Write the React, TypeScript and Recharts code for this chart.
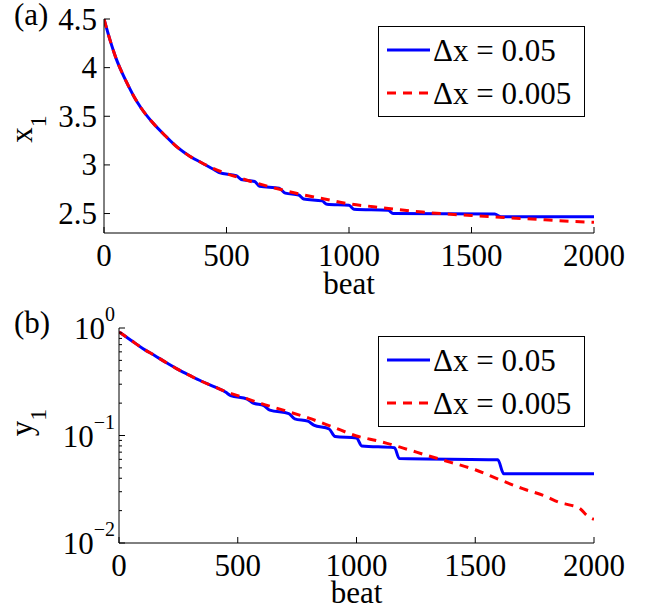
import { Legend, Line, LineChart, XAxis, YAxis } from "recharts";

// beat axis, shared by both panels
const beatTicks = [0, 500, 1000, 1500, 2000];

// panel (a): x1
const x1Ticks = [2.5, 3, 3.5, 4, 4.5];
const beatsBlueA = [0, 25, 50, 75, 100, 125, 150, 200, 250, 300, 350, 400, 450, 470, 540, 560, 615, 635, 715, 740, 795, 815, 890, 910, 1000, 1020, 1160, 1180, 1595, 1620, 2000];
const x1Blue = [4.5, 4.28, 4.09, 3.94, 3.81, 3.69, 3.59, 3.43, 3.3, 3.18, 3.09, 3.02, 2.95, 2.92, 2.89, 2.85, 2.83, 2.78, 2.76, 2.71, 2.69, 2.65, 2.63, 2.595, 2.585, 2.545, 2.535, 2.5, 2.495, 2.466, 2.466];
const beatsRedA = [0, 25, 50, 75, 100, 125, 150, 200, 250, 300, 350, 400, 450, 500, 550, 600, 700, 800, 900, 1000, 1100, 1200, 1300, 1400, 1500, 1600, 1700, 1800, 1900, 2000];
const x1Red = [4.5, 4.28, 4.09, 3.94, 3.81, 3.69, 3.59, 3.43, 3.3, 3.18, 3.09, 3.02, 2.96, 2.91, 2.87, 2.83, 2.76, 2.7, 2.65, 2.6, 2.57, 2.54, 2.515, 2.495, 2.48, 2.465, 2.45, 2.435, 2.42, 2.41];

// panel (b): y1, log scale
const y1Ticks = [0.01, 0.02, 0.03, 0.04, 0.05, 0.06, 0.07, 0.08, 0.09, 0.1, 0.2, 0.3, 0.4, 0.5, 0.6, 0.7, 0.8, 0.9, 1];
const y1Major = [0.01, 0.1, 1];
const y1Exp = ["\u22122", "\u22121", "0"];
const beatsBlueB = [0, 50, 100, 150, 200, 250, 300, 350, 400, 450, 470, 540, 565, 610, 635, 715, 740, 795, 820, 885, 910, 1000, 1022, 1160, 1180, 1595, 1620, 2000];
const y1Blue = [0.92, 0.77, 0.645, 0.555, 0.475, 0.41, 0.36, 0.318, 0.285, 0.252, 0.235, 0.218, 0.2, 0.19, 0.172, 0.16, 0.143, 0.136, 0.125, 0.115, 0.098, 0.095, 0.08, 0.077, 0.061, 0.0595, 0.044, 0.044];
const beatsRedB = [0, 50, 100, 150, 200, 250, 300, 350, 400, 450, 500, 600, 700, 800, 900, 1000, 1100, 1200, 1300, 1400, 1500, 1600, 1700, 1800, 1850, 1900, 1940, 1970, 2000];
const y1Red = [0.92, 0.77, 0.645, 0.555, 0.475, 0.41, 0.36, 0.318, 0.285, 0.256, 0.235, 0.198, 0.17, 0.145, 0.12, 0.099, 0.088, 0.076, 0.065, 0.056, 0.048, 0.039, 0.032, 0.027, 0.024, 0.0225, 0.021, 0.018, 0.0166];

const seriesNames = ["\u0394x = 0.05", "\u0394x = 0.005"];

const FONT = "Liberation Serif, DejaVu Serif, serif";
const txt = { fontFamily: FONT, fill: "#000" };
const BLUE = "#0000ff";
const RED = "#ff0000";

const zip = (beats: number[], vals: number[]) => beats.map((b, i) => ({ beat: b, v: vals[i] }));

const blueA = zip(beatsBlueA, x1Blue);
const redA = zip(beatsRedA, x1Red);
const blueB = zip(beatsBlueB, y1Blue);
const redB = zip(beatsRedB, y1Red);

function BottomTick({ x, y, payload }: any) {
  return (
    <g>
      <line x1={x} y1={y} x2={x} y2={y - 6} stroke="#000" />
      <text x={x} y={y + 33} textAnchor="middle" style={{ ...txt, fontSize: 31 }}>
        {payload.value}
      </text>
    </g>
  );
}

function TopTick({ x, y }: any) {
  return <line x1={x} y1={y} x2={x} y2={y + 6} stroke="#000" />;
}

function LeftTick({ x, y, payload }: any) {
  return (
    <g>
      <line x1={x} y1={y} x2={x + 6} y2={y} stroke="#000" />
      <text x={x - 7} y={y} dy="0.34em" textAnchor="end" style={{ ...txt, fontSize: 31 }}>
        {payload.value}
      </text>
    </g>
  );
}

function RightTick({ x, y }: any) {
  return <line x1={x} y1={y} x2={x - 6} y2={y} stroke="#000" />;
}

function LogLeftTick({ x, y, payload }: any) {
  const idx = y1Major.indexOf(payload.value);
  if (idx < 0) return <line x1={x} y1={y} x2={x + 3} y2={y} stroke="#000" />;
  return (
    <g>
      <line x1={x} y1={y} x2={x + 6} y2={y} stroke="#000" />
      <text x={x - 4} y={y + 11} textAnchor="end" style={{ ...txt, fontSize: 31 }}>
        10
        <tspan dy={-18} style={{ fontSize: 20 }}>
          {y1Exp[idx]}
        </tspan>
      </text>
    </g>
  );
}

function LogRightTick({ x, y, payload }: any) {
  const len = y1Major.includes(payload.value) ? 6 : 3;
  return <line x1={x} y1={y} x2={x - len} y2={y} stroke="#000" />;
}

function YLabel({ viewBox, name, shift }: any) {
  const cy = viewBox.y + viewBox.height / 2 + shift;
  return (
    <text transform={`translate(32,${cy}) rotate(-90)`} textAnchor="middle" style={{ ...txt, fontSize: 31 }}>
      {name}
      <tspan dy={14} style={{ fontSize: 24 }}>
        1
      </tspan>
    </text>
  );
}

function XLabel({ viewBox, drop }: any) {
  return (
    <text x={viewBox.x + viewBox.width / 2} y={viewBox.y + drop} textAnchor="middle" style={{ ...txt, fontSize: 31 }}>
      beat
    </text>
  );
}

function LegendBox({ payload }: any) {
  const items = [...(payload || [])].sort(
    (a: any, b: any) => seriesNames.indexOf(a.value) - seriesNames.indexOf(b.value),
  );
  return (
    <svg width={208} height={92} style={{ display: "block" }}>
      <rect x={0.5} y={0.5} width={206} height={90} fill="#fff" stroke="#000" />
      {items.map((p: any, i: number) => (
        <g key={p.value}>
          <line
            x1={9}
            x2={52}
            y1={24 + 43 * i}
            y2={24 + 43 * i}
            stroke={p.color}
            strokeWidth={3}
            strokeDasharray={p.payload?.strokeDasharray}
          />
          <text x={55} y={35 + 43 * i} style={{ ...txt, fontSize: 31 }}>
            {p.value}
          </text>
        </g>
      ))}
    </svg>
  );
}

function PanelTag({ text, baseline }: { text: string; baseline: number }) {
  return (
    <svg width={60} height={50} style={{ position: "absolute", left: 0, top: baseline - 32 }}>
      <text x={14} y={32} style={{ ...txt, fontSize: 31 }}>
        {text}
      </text>
    </svg>
  );
}

export default function App() {
  return (
    <div style={{ position: "absolute", left: 0, top: 0, width: 654, height: 608, background: "#fff", fontFamily: FONT }}>
      <div style={{ position: "absolute", left: 0, top: 0 }}>
        <LineChart width={654} height={300} margin={{ top: 19, right: 60, bottom: 0, left: 44 }}>
          <XAxis
            dataKey="beat"
            type="number"
            domain={[0, 2000]}
            ticks={beatTicks}
            interval={0}
            allowDataOverflow
            height={67}
            tickSize={0}
            tickMargin={0}
            tickLine={false}
            tick={<BottomTick />}
            axisLine={{ stroke: "#000" }}
            label={<XLabel drop={61} />}
          />
          <XAxis
            xAxisId="t"
            orientation="top"
            type="number"
            domain={[0, 2000]}
            ticks={beatTicks}
            interval={0}
            allowDataOverflow
            height={0}
            tickSize={0}
            tickMargin={0}
            tickLine={false}
            tick={<TopTick />}
            axisLine={{ stroke: "#000" }}
          />
          <YAxis
            type="number"
            domain={[2.3, 4.5]}
            ticks={x1Ticks}
            interval={0}
            allowDataOverflow
            width={60}
            tickSize={0}
            tickMargin={0}
            tickLine={false}
            tick={<LeftTick />}
            axisLine={{ stroke: "#000" }}
            label={<YLabel name="x" shift={3} />}
          />
          <YAxis
            yAxisId="r"
            orientation="right"
            type="number"
            domain={[2.3, 4.5]}
            ticks={x1Ticks}
            interval={0}
            allowDataOverflow
            width={0}
            tickSize={0}
            tickMargin={0}
            tickLine={false}
            tick={<RightTick />}
            axisLine={{ stroke: "#000" }}
          />
          <Legend
            layout="vertical"
            align="center"
            verticalAlign="middle"
            content={<LegendBox />}
            wrapperStyle={{ left: 378, top: 26, width: 208, height: 92 }}
          />
          <Line
            data={blueA}
            dataKey="v"
            name={seriesNames[0]}
            type="monotone"
            stroke={BLUE}
            strokeWidth={3}
            dot={false}
            isAnimationActive={false}
          />
          <Line
            data={redA}
            dataKey="v"
            name={seriesNames[1]}
            type="monotone"
            stroke={RED}
            strokeWidth={3}
            strokeDasharray="9 7"
            dot={false}
            isAnimationActive={false}
          />
        </LineChart>
      </div>
      <div style={{ position: "absolute", left: 0, top: 300 }}>
        <LineChart width={654} height={308} margin={{ top: 28, right: 60, bottom: 0, left: 59 }}>
          <XAxis
            dataKey="beat"
            type="number"
            domain={[0, 2000]}
            ticks={beatTicks}
            interval={0}
            allowDataOverflow
            height={65}
            tickSize={0}
            tickMargin={0}
            tickLine={false}
            tick={<BottomTick />}
            axisLine={{ stroke: "#000" }}
            label={<XLabel drop={60} />}
          />
          <XAxis
            xAxisId="t"
            orientation="top"
            type="number"
            domain={[0, 2000]}
            ticks={beatTicks}
            interval={0}
            allowDataOverflow
            height={0}
            tickSize={0}
            tickMargin={0}
            tickLine={false}
            tick={<TopTick />}
            axisLine={{ stroke: "#000" }}
          />
          <YAxis
            type="number"
            scale="log"
            domain={[0.01, 1]}
            ticks={y1Ticks}
            interval={0}
            allowDataOverflow
            width={60}
            tickSize={0}
            tickMargin={0}
            tickLine={false}
            tick={<LogLeftTick />}
            axisLine={{ stroke: "#000" }}
            label={<YLabel name="y" shift={-13} />}
          />
          <YAxis
            yAxisId="r"
            orientation="right"
            type="number"
            scale="log"
            domain={[0.01, 1]}
            ticks={y1Ticks}
            interval={0}
            allowDataOverflow
            width={0}
            tickSize={0}
            tickMargin={0}
            tickLine={false}
            tick={<LogRightTick />}
            axisLine={{ stroke: "#000" }}
          />
          <Legend
            layout="vertical"
            align="center"
            verticalAlign="middle"
            content={<LegendBox />}
            wrapperStyle={{ left: 378, top: 36, width: 208, height: 92 }}
          />
          <Line
            data={blueB}
            dataKey="v"
            name={seriesNames[0]}
            type="monotone"
            stroke={BLUE}
            strokeWidth={3}
            dot={false}
            isAnimationActive={false}
          />
          <Line
            data={redB}
            dataKey="v"
            name={seriesNames[1]}
            type="monotone"
            stroke={RED}
            strokeWidth={3}
            strokeDasharray="9 7"
            dot={false}
            isAnimationActive={false}
          />
        </LineChart>
      </div>
      <PanelTag text="(a)" baseline={25} />
      <PanelTag text="(b)" baseline={333} />
    </div>
  );
}
